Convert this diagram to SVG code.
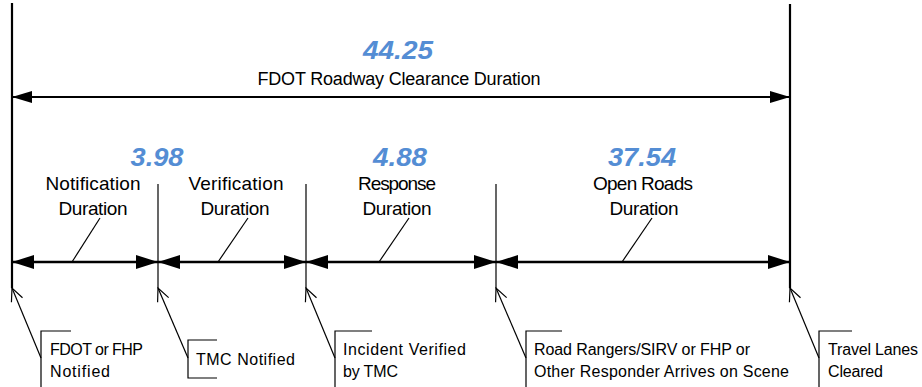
<svg xmlns="http://www.w3.org/2000/svg" width="922" height="387" viewBox="0 0 922 387">
<style>
.lbl{font-family:"Liberation Sans",Arial,sans-serif;font-size:19px;fill:#000;text-anchor:middle}
.top{font-size:18px}
.num{font-family:"Liberation Sans",Arial,sans-serif;font-size:26px;font-weight:bold;font-style:italic;fill:#548DD4;text-anchor:middle}
.co{font-family:"Liberation Sans",Arial,sans-serif;font-size:16px;fill:#000}
.big{stroke:#000;stroke-width:2.2;fill:none}
.tick{stroke:#000;stroke-width:1.2;fill:none}
.dim{stroke:#000;stroke-width:2.6;fill:none}
.dimtop{stroke:#000;stroke-width:2.2;fill:none}
.thin{stroke:#000;stroke-width:1.2;fill:none}
</style>
<defs>
<marker id="arrF" markerUnits="userSpaceOnUse" viewBox="0 0 22 14" refX="22" refY="7" markerWidth="22" markerHeight="14" orient="auto-start-reverse">
<path d="M0,0 L22,7 L0,14 Z" fill="#000"/>
</marker>
<marker id="arrT" markerUnits="userSpaceOnUse" viewBox="0 0 20 12" refX="20" refY="6" markerWidth="20" markerHeight="12" orient="auto-start-reverse">
<path d="M0,0 L20,6 L0,12 Z" fill="#000"/>
</marker>
<marker id="arrO" markerUnits="userSpaceOnUse" viewBox="-15 -8 17 16" refX="0" refY="0" markerWidth="17" markerHeight="16" orient="auto-start-reverse">
<path d="M-13,-6 L0,0 L-13,6" fill="none" stroke="#000" stroke-width="1.2"/>
</marker>
</defs>

<g id="event-fdot-notified">
<line class="big" x1="12" y1="3" x2="12" y2="288"/>
<path class="thin" d="M71,331 H41 V387"/>
<text class="co" x="50" y="355" textLength="93" lengthAdjust="spacing">FDOT or FHP</text>
<text class="co" x="50" y="377" textLength="60" lengthAdjust="spacing">Notified</text>
</g>

<g id="event-tmc-notified">
<line class="tick" x1="158" y1="184" x2="158" y2="288"/>
<path class="thin" d="M217,340 H188 V378 H217"/>
<text class="co" x="196" y="365" textLength="99" lengthAdjust="spacing">TMC Notified</text>
</g>

<g id="event-incident-verified">
<line class="tick" x1="306" y1="184" x2="306" y2="288"/>
<path class="thin" d="M372,331 H335 V387"/>
<text class="co" x="343" y="355" textLength="123" lengthAdjust="spacing">Incident Verified</text>
<text class="co" x="343" y="377" textLength="55" lengthAdjust="spacing">by TMC</text>
</g>

<g id="event-responder-arrives">
<line class="tick" x1="496" y1="184" x2="496" y2="288"/>
<path class="thin" d="M562,331 H526 V387"/>
<text class="co" x="534" y="355" textLength="216" lengthAdjust="spacing">Road Rangers/SIRV or FHP or</text>
<text class="co" x="534" y="377" textLength="255" lengthAdjust="spacing">Other Responder Arrives on Scene</text>
</g>

<g id="event-lanes-cleared">
<line class="big" x1="790" y1="4" x2="790" y2="288"/>
<path class="thin" d="M852,331 H819 V387"/>
<text class="co" x="828" y="355" textLength="90" lengthAdjust="spacing">Travel Lanes</text>
<text class="co" x="828" y="377" textLength="55" lengthAdjust="spacing">Cleared</text>
</g>

<g id="label-roadway-clearance">
<text class="num" x="398" y="59" textLength="70" lengthAdjust="spacingAndGlyphs">44.25</text>
<text class="lbl top" x="399" y="85" textLength="283" lengthAdjust="spacing">FDOT Roadway Clearance Duration</text>
</g>

<g id="label-notification">
<text class="num" x="157" y="166" textLength="53" lengthAdjust="spacingAndGlyphs">3.98</text>
<text class="lbl" x="93" y="190" textLength="95" lengthAdjust="spacing">Notification</text>
<text class="lbl" x="93" y="215" textLength="69" lengthAdjust="spacing">Duration</text>
</g>

<g id="label-verification">
<text class="lbl" x="236" y="190" textLength="95" lengthAdjust="spacing">Verification</text>
<text class="lbl" x="235" y="215" textLength="69" lengthAdjust="spacing">Duration</text>
</g>

<g id="label-response">
<text class="num" x="400" y="166" textLength="54" lengthAdjust="spacingAndGlyphs">4.88</text>
<text class="lbl" x="397" y="190" textLength="78" lengthAdjust="spacing">Response</text>
<text class="lbl" x="397" y="215" textLength="69" lengthAdjust="spacing">Duration</text>
</g>

<g id="label-open-roads">
<text class="num" x="642" y="166" textLength="68" lengthAdjust="spacingAndGlyphs">37.54</text>
<text class="lbl" x="643" y="190" textLength="100" lengthAdjust="spacing">Open Roads</text>
<text class="lbl" x="644" y="215" textLength="69" lengthAdjust="spacing">Duration</text>
</g>

<g id="connectors">
<line class="dimtop" x1="12" y1="97" x2="790" y2="97" marker-start="url(#arrT)" marker-end="url(#arrT)"/>
<line class="dim" x1="12" y1="262" x2="158" y2="262" marker-start="url(#arrF)" marker-end="url(#arrF)"/>
<line class="dim" x1="158" y1="262" x2="306" y2="262" marker-start="url(#arrF)" marker-end="url(#arrF)"/>
<line class="dim" x1="306" y1="262" x2="496" y2="262" marker-start="url(#arrF)" marker-end="url(#arrF)"/>
<line class="dim" x1="496" y1="262" x2="790" y2="262" marker-start="url(#arrF)" marker-end="url(#arrF)"/>
<line class="thin" x1="100" y1="218" x2="72" y2="262"/>
<line class="thin" x1="248" y1="218" x2="218" y2="262"/>
<line class="thin" x1="409" y1="218" x2="379" y2="262"/>
<line class="thin" x1="652" y1="218" x2="622" y2="262"/>
<line class="thin" x1="12" y1="288" x2="41" y2="358" marker-start="url(#arrO)"/>
<line class="thin" x1="158" y1="288" x2="188" y2="358" marker-start="url(#arrO)"/>
<line class="thin" x1="306" y1="288" x2="335" y2="358" marker-start="url(#arrO)"/>
<line class="thin" x1="496" y1="288" x2="526" y2="358" marker-start="url(#arrO)"/>
<line class="thin" x1="790" y1="288" x2="819" y2="358" marker-start="url(#arrO)"/>
</g>
</svg>
